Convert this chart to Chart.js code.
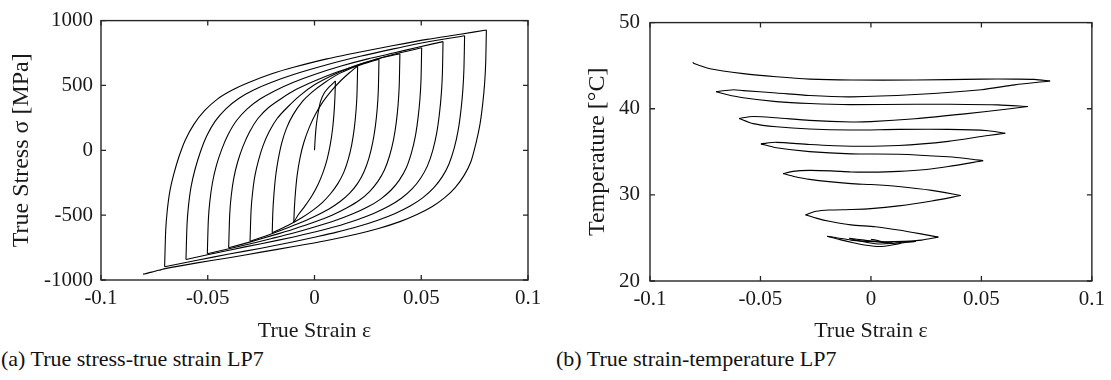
<!DOCTYPE html>
<html>
<head>
<meta charset="utf-8">
<script src="https://cdn.jsdelivr.net/npm/chart.js@4.4.1/dist/chart.umd.min.js"></script>
<style>
  body { margin: 0; background: #fff; width: 1111px; height: 380px; position: relative; overflow: hidden;
         font-family: "Liberation Serif", "Times New Roman", serif; }
  canvas { position: absolute; top: 0; }
  #stressChart { left: 0; }
  #tempChart { left: 555px; }
  .caption { position: absolute; top: 346px; font-size: 22px; color: #111; white-space: nowrap; }
</style>
</head>
<body>
<canvas id="stressChart" width="555" height="345"></canvas>
<canvas id="tempChart" width="556" height="345"></canvas>
<div class="caption" style="left:1px">(a) True stress-true strain LP7</div>
<div class="caption" style="left:556px">(b) True strain-temperature LP7</div>

<script>
// tick values + labels
const strainTicks = [-0.1, -0.05, 0, 0.05, 0.1];
const strainTickLabels = ['-0.1', '-0.05', '0', '0.05', '0.1'];
const stressTicks = [-1000, -500, 0, 500, 1000];
const stressTickLabels = ['-1000', '-500', '0', '500', '1000'];
const tempTicks = [20, 30, 40, 50];
const tempTickLabels = ['20', '30', '40', '50'];

// (a) stress-strain, one array per half cycle  [strain, stress MPa]
const sInit = [[0,0],[0.0004,110],[0.0009,200],[0.0016,280],[0.0028,375],[0.0045,440],[0.007,490],[0.0098,535]];
const sDown1 = [[0.0098,535],[0.0096,420],[0.0092,300],[0.0085,170],[0.0074,45],[0.0059,-70],[0.004,-170],[0.0016,-265],[-0.0012,-350],[-0.0045,-430],[-0.0075,-495],[-0.0097,-555]];
const sUp1 = [[-0.0097,-555],[-0.0094,-440],[-0.0089,-320],[-0.0081,-190],[-0.0068,-60],[-0.005,60],[-0.0025,175],[0.0005,280],[0.004,375],[0.008,460],[0.0125,540],[0.0165,600],[0.0202,650]];
const sDown2 = [[0.0202,650],[0.0199,430],[0.0194,295],[0.0186,165],[0.0174,40],[0.0158,-70],[0.0137,-170],[0.011,-255],[0.0075,-335],[0.0035,-405],[-0.001,-465],[-0.006,-520],[-0.0125,-580],[-0.0198,-635]];
const sUp2 = [[-0.0198,-635],[-0.0195,-470],[-0.019,-340],[-0.0182,-200],[-0.017,-70],[-0.0153,60],[-0.013,175],[-0.01,275],[-0.006,370],[-0.001,450],[0.005,525],[0.012,595],[0.02,650],[0.0302,703]];
const sDown3 = [[0.0302,703],[0.0299,465],[0.0294,325],[0.0285,185],[0.0272,55],[0.0255,-60],[0.0232,-165],[0.0202,-255],[0.0165,-330],[0.012,-395],[0.0066,-455],[0,-510],[-0.0075,-565],[-0.015,-612],[-0.0225,-658],[-0.0302,-702]];
const sUp3 = [[-0.0302,-702],[-0.0297,-460],[-0.029,-325],[-0.0279,-195],[-0.0262,-75],[-0.024,40],[-0.0212,145],[-0.0175,245],[-0.0128,330],[-0.007,420],[0,505],[0.008,575],[0.016,632],[0.024,678],[0.032,715],[0.04,745]];
const sDown4 = [[0.04,745],[0.0397,505],[0.0392,360],[0.0383,215],[0.037,80],[0.0352,-40],[0.0328,-150],[0.0297,-240],[0.0258,-318],[0.021,-385],[0.015,-445],[0.0082,-500],[0,-553],[-0.01,-608],[-0.02,-658],[-0.03,-706],[-0.0402,-752]];
const sUp4 = [[-0.0402,-752],[-0.0397,-490],[-0.039,-350],[-0.0378,-215],[-0.036,-90],[-0.0335,30],[-0.0305,140],[-0.0265,245],[-0.0215,330],[-0.0155,400],[-0.0085,470],[0,535],[0.01,600],[0.02,655],[0.03,708],[0.04,752],[0.0502,790]];
const sDown5 = [[0.0502,790],[0.0499,550],[0.0494,400],[0.0485,250],[0.0472,105],[0.0454,-20],[0.043,-135],[0.0398,-228],[0.0358,-308],[0.0308,-378],[0.0248,-438],[0.018,-490],[0.01,-540],[0,-592],[-0.0098,-638],[-0.02,-680],[-0.035,-740],[-0.0502,-797]];
const sUp5 = [[-0.0502,-797],[-0.0497,-530],[-0.049,-390],[-0.0478,-250],[-0.046,-120],[-0.0435,5],[-0.0405,120],[-0.0365,230],[-0.0315,320],[-0.0255,395],[-0.0185,460],[-0.0098,525],[0,585],[0.0125,650],[0.025,705],[0.037,750],[0.0485,795],[0.0602,838]];
const sDown6 = [[0.0602,838],[0.0599,590],[0.0594,435],[0.0585,280],[0.0572,130],[0.0554,0],[0.0529,-120],[0.0497,-215],[0.0457,-298],[0.0407,-370],[0.0347,-432],[0.0277,-487],[0.02,-535],[0.01,-588],[0,-630],[-0.0098,-668],[-0.025,-720],[-0.04,-770],[-0.0602,-842]];
const sUp6 = [[-0.0602,-842],[-0.0597,-570],[-0.059,-425],[-0.0578,-280],[-0.056,-150],[-0.0535,-15],[-0.0505,110],[-0.0465,225],[-0.0415,320],[-0.0355,400],[-0.0285,465],[-0.02,525],[-0.0098,585],[0.0058,660],[0.0214,725],[0.037,782],[0.0527,835],[0.0703,883]];
const sDown7 = [[0.0703,883],[0.07,630],[0.0695,470],[0.0686,310],[0.0673,155],[0.0655,20],[0.063,-105],[0.0598,-205],[0.0558,-290],[0.0508,-365],[0.0448,-430],[0.0378,-487],[0.03,-537],[0.02,-590],[0.01,-633],[0,-670],[-0.0098,-705],[-0.025,-755],[-0.04,-800],[-0.055,-848],[-0.0702,-898]];
const sUp7 = [[-0.0702,-898],[-0.0697,-620],[-0.069,-470],[-0.0678,-320],[-0.066,-190],[-0.0635,-50],[-0.0605,80],[-0.0565,200],[-0.0515,305],[-0.0455,395],[-0.0385,465],[-0.0305,525],[-0.02,590],[-0.0098,640],[0.0058,705],[0.0214,758],[0.037,808],[0.0527,855],[0.0683,895],[0.0805,928]];
const sDown8 = [[0.0805,928],[0.0802,680],[0.0797,520],[0.0788,360],[0.0775,200],[0.0757,60],[0.0732,-90],[0.07,-195],[0.066,-285],[0.061,-365],[0.055,-435],[0.048,-495],[0.04,-550],[0.03,-603],[0.02,-645],[0.0058,-695],[-0.0098,-742],[-0.025,-785],[-0.04,-828],[-0.055,-868],[-0.07,-912],[-0.072,-922],[-0.074,-929],[-0.0755,-937],[-0.077,-941],[-0.0785,-949],[-0.0803,-955]];

// (b) strain-temperature, same half cycles  [strain, °C]
const tInit = [[0,24.85],[0.003,24.7],[0.0065,24.5],[0.0098,24.4]];
const tDown1 = [[0.0098,24.4],[0.006,24.45],[0.002,24.6],[-0.003,24.75],[-0.0097,24.95]];
const tUp1 = [[-0.0097,24.95],[-0.006,24.7],[-0.001,24.45],[0.004,24.3],[0.009,24.35],[0.014,24.5],[0.0202,24.6]];
const tDown2 = [[0.0202,24.6],[0.016,24.5],[0.01,24.2],[0.004,24.0],[-0.002,24.15],[-0.008,24.45],[-0.014,24.8],[-0.0198,25.2]];
const tUp2 = [[-0.0198,25.2],[-0.015,25.0],[-0.009,24.75],[-0.002,24.6],[0.006,24.55],[0.015,24.6],[0.023,24.75],[0.0305,25.09]];
const tDown3 = [[0.0305,25.09],[0.022,25.5],[0.0125,25.92],[0.002,26.3],[-0.009,26.52],[-0.0188,26.93],[-0.0248,27.3],[-0.0296,27.68]];
const tUp3 = [[-0.0296,27.68],[-0.0248,28.09],[-0.0188,28.24],[-0.009,28.3],[0,28.4],[0.0125,28.72],[0.0275,29.29],[0.0407,29.92]];
const tDown4 = [[0.0407,29.92],[0.0275,30.52],[0.0125,30.97],[0,31.2],[-0.009,31.3],[-0.0278,31.8],[-0.0353,32.17],[-0.0398,32.47]];
const tUp4 = [[-0.0398,32.47],[-0.0353,32.73],[-0.0278,32.84],[-0.018,32.78],[-0.009,32.66],[0,32.64],[0.0125,32.73],[0.025,32.95],[0.035,33.29],[0.0508,33.97]];
const tDown5 = [[0.0508,33.97],[0.044,34.2],[0.035,34.42],[0.0125,34.72],[-0.009,34.76],[-0.0278,35.02],[-0.0428,35.47],[-0.0498,35.92]];
const tUp5 = [[-0.0498,35.92],[-0.0428,36.1],[-0.0278,35.84],[-0.009,35.65],[0.0125,35.73],[0.035,36.21],[0.053,36.89],[0.0608,37.15]];
const tDown6 = [[0.0608,37.15],[0.053,37.45],[0.035,37.6],[0.0125,37.6],[-0.009,37.53],[-0.0278,37.64],[-0.0428,37.9],[-0.0533,38.27],[-0.0597,38.87]];
const tUp6 = [[-0.0597,38.87],[-0.0533,39.1],[-0.0428,38.95],[-0.0278,38.65],[-0.009,38.46],[0,38.5],[0.02,38.84],[0.0425,39.4],[0.062,39.96],[0.071,40.26]];
const tDown7 = [[0.071,40.26],[0.0575,40.45],[0.035,40.52],[0.02,40.52],[-0.009,40.48],[-0.0277,40.6],[-0.0428,40.82],[-0.0578,41.27],[-0.0653,41.65],[-0.0701,41.98]];
const tUp7 = [[-0.0701,41.98],[-0.0623,42.21],[-0.0578,42.1],[-0.0428,41.83],[-0.0278,41.53],[-0.009,41.38],[0.02,41.65],[0.05,42.21],[0.065,42.77],[0.0811,43.22]];
const tDown8 = [[0.0811,43.22],[0.074,43.41],[0.065,43.44],[0.05,43.44],[0.02,43.33],[-0.009,43.33],[-0.0277,43.44],[-0.0428,43.71],[-0.0578,44.08],[-0.0728,44.64],[-0.0803,45.28],[-0.0806,45.42]];

const stressBranches = [sInit, sDown1, sUp1, sDown2, sUp2, sDown3, sUp3, sDown4, sUp4, sDown5, sUp5, sDown6, sUp6, sDown7, sUp7, sDown8];
const tempBranches = [tInit, tDown1, tUp1, tDown2, tUp2, tDown3, tUp3, tDown4, tUp4, tDown5, tUp5, tDown6, tUp6, tDown7, tUp7, tDown8];

Chart.defaults.font.family = '"Liberation Serif", "Times New Roman", serif';
Chart.defaults.color = '#1a1a1a';

// box around the plot + inward ticks on all four sides (matlab look)
const boxTicks = {
    id: 'boxTicks',
    afterDraw(chart) {
        const { ctx, chartArea: a, scales: { x, y } } = chart;
        ctx.save();
        ctx.strokeStyle = '#262626';
        ctx.lineWidth = 1.4;
        ctx.strokeRect(a.left, a.top, a.right - a.left, a.bottom - a.top);
        ctx.lineWidth = 1.3;
        ctx.beginPath();
        x.ticks.forEach(t => {
            const px = x.getPixelForValue(t.value);
            ctx.moveTo(px, a.bottom); ctx.lineTo(px, a.bottom - 5);
            ctx.moveTo(px, a.top); ctx.lineTo(px, a.top + 5);
        });
        y.ticks.forEach(t => {
            const py = y.getPixelForValue(t.value);
            ctx.moveTo(a.left, py); ctx.lineTo(a.left + 5, py);
            ctx.moveTo(a.right, py); ctx.lineTo(a.right - 5, py);
        });
        ctx.stroke();
        ctx.restore();
    }
};

function makeSets(branches) {
    return branches.map(b => ({
        data: b.map(p => ({ x: p[0], y: p[1] })),
        showLine: true,
        borderColor: '#000',
        borderWidth: 1.1,
        pointRadius: 0,
        tension: 0.25,
        fill: false
    }));
}

function makeChart(canvasId, branches, opts) {
    return new Chart(document.getElementById(canvasId), {
        type: 'scatter',
        data: { datasets: makeSets(branches) },
        options: {
            responsive: false,
            animation: false,
            devicePixelRatio: 1,
            layout: { padding: opts.padding },
            plugins: { legend: { display: false }, tooltip: { enabled: false } },
            scales: {
                x: {
                    min: -0.1, max: 0.1,
                    afterBuildTicks: s => { s.ticks = strainTicks.map(v => ({ value: v })); },
                    afterFit: s => { s.height = opts.xHeight; },
                    grid: { display: false, drawTicks: false },
                    border: { display: false },
                    ticks: { callback: (v, i) => strainTickLabels[i], padding: 6, maxRotation: 0, autoSkip: false, font: { size: 21 } },
                    title: { display: true, text: 'True Strain ε', font: { size: 22 }, padding: { top: 0, bottom: 1 } }
                },
                y: {
                    min: opts.yMin, max: opts.yMax,
                    afterBuildTicks: s => { s.ticks = opts.yTicks.map(v => ({ value: v })); },
                    afterFit: s => { s.width = opts.yWidth; },
                    grid: { display: false, drawTicks: false },
                    border: { display: false },
                    ticks: { callback: (v, i) => opts.yLabels[i], padding: opts.yTickPad, autoSkip: false, font: { size: 21 } },
                    title: { display: true, text: opts.yTitle, font: { size: 24 }, padding: { top: opts.yTitlePad, bottom: 0 } }
                }
            }
        },
        plugins: [boxTicks]
    });
}

const stressChart = makeChart('stressChart', stressBranches, {
    padding: { top: 14, right: 27, bottom: 0, left: 0 },
    xHeight: 65, yWidth: 101, yTickPad: 8,
    yMin: -1000, yMax: 1000, yTicks: stressTicks, yLabels: stressTickLabels,
    yTitle: 'True Stress σ [MPa]', yTitlePad: 7
});

const tempChart = makeChart('tempChart', tempBranches, {
    padding: { top: 14, right: 17, bottom: 0, left: 0 },
    xHeight: 64, yWidth: 95, yTickPad: 10,
    yMin: 20, yMax: 50, yTicks: tempTicks, yLabels: tempTickLabels,
    yTitle: 'Temperature [°C]', yTitlePad: 28
});
</script>
</body>
</html>
